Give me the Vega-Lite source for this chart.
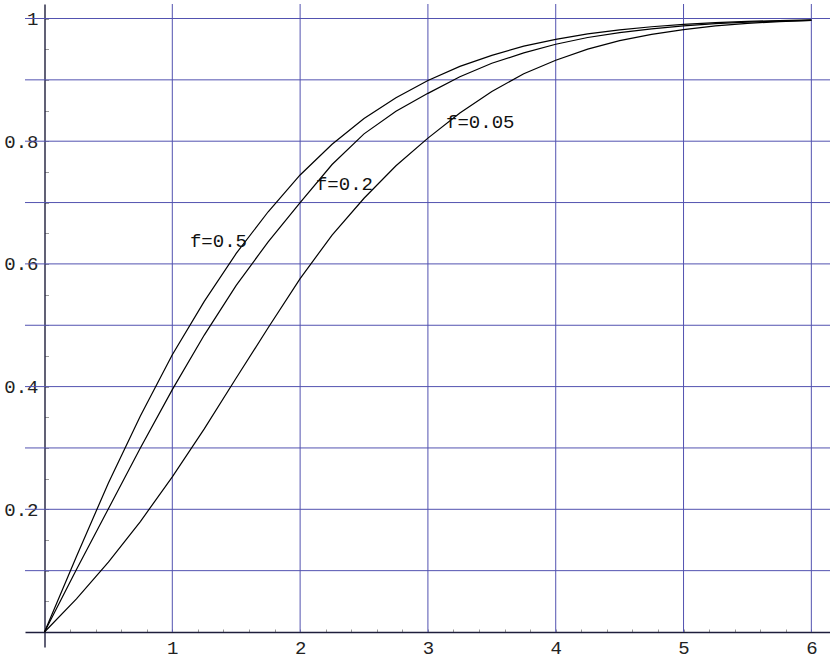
{
  "$schema": "https://vega.github.io/schema/vega-lite/v6.json",
  "width": 805,
  "height": 643,
  "autosize": {"type": "none"},
  "padding": {"left": 25, "top": 4, "right": 0, "bottom": 17},
  "background": "white",
  "config": {
    "view": {"stroke": null},
    "axis": {
      "labelFont": "Liberation Mono",
      "labelFontSize": 19,
      "labelColor": "#222222",
      "labelFlush": false,
      "labelBound": false,
      "labelOverlap": false,
      "domainColor": "#1e1e3c",
      "domainWidth": 1.4,
      "tickColor": "#9a9a9a",
      "tickWidth": 1,
      "grid": false,
      "title": null
    }
  },
  "datasets": {
    "curves": [
      {"f": "0.5", "x": 0, "y": 0}, {"f": "0.5", "x": 0.25, "y": 0.123}, {"f": "0.5", "x": 0.5, "y": 0.243}, {"f": "0.5", "x": 0.75, "y": 0.352},
      {"f": "0.5", "x": 1, "y": 0.452}, {"f": "0.5", "x": 1.25, "y": 0.539}, {"f": "0.5", "x": 1.5, "y": 0.617}, {"f": "0.5", "x": 1.75, "y": 0.685},
      {"f": "0.5", "x": 2, "y": 0.745}, {"f": "0.5", "x": 2.25, "y": 0.795}, {"f": "0.5", "x": 2.5, "y": 0.837}, {"f": "0.5", "x": 2.75, "y": 0.871},
      {"f": "0.5", "x": 3, "y": 0.899}, {"f": "0.5", "x": 3.25, "y": 0.922}, {"f": "0.5", "x": 3.5, "y": 0.94}, {"f": "0.5", "x": 3.75, "y": 0.955},
      {"f": "0.5", "x": 4, "y": 0.966}, {"f": "0.5", "x": 4.25, "y": 0.975}, {"f": "0.5", "x": 4.5, "y": 0.9815}, {"f": "0.5", "x": 4.75, "y": 0.9866},
      {"f": "0.5", "x": 5, "y": 0.9905}, {"f": "0.5", "x": 5.25, "y": 0.9932}, {"f": "0.5", "x": 5.5, "y": 0.9952}, {"f": "0.5", "x": 5.75, "y": 0.9967},
      {"f": "0.5", "x": 6, "y": 0.9977},
      {"f": "0.2", "x": 0, "y": 0}, {"f": "0.2", "x": 0.25, "y": 0.102}, {"f": "0.2", "x": 0.5, "y": 0.201}, {"f": "0.2", "x": 0.75, "y": 0.3},
      {"f": "0.2", "x": 1, "y": 0.395}, {"f": "0.2", "x": 1.25, "y": 0.484}, {"f": "0.2", "x": 1.5, "y": 0.565}, {"f": "0.2", "x": 1.75, "y": 0.636},
      {"f": "0.2", "x": 2, "y": 0.7}, {"f": "0.2", "x": 2.25, "y": 0.762}, {"f": "0.2", "x": 2.5, "y": 0.812}, {"f": "0.2", "x": 2.75, "y": 0.849},
      {"f": "0.2", "x": 3, "y": 0.878}, {"f": "0.2", "x": 3.25, "y": 0.905}, {"f": "0.2", "x": 3.5, "y": 0.927}, {"f": "0.2", "x": 3.75, "y": 0.944},
      {"f": "0.2", "x": 4, "y": 0.958}, {"f": "0.2", "x": 4.25, "y": 0.969}, {"f": "0.2", "x": 4.5, "y": 0.977}, {"f": "0.2", "x": 4.75, "y": 0.983},
      {"f": "0.2", "x": 5, "y": 0.988}, {"f": "0.2", "x": 5.25, "y": 0.9915}, {"f": "0.2", "x": 5.5, "y": 0.994}, {"f": "0.2", "x": 5.75, "y": 0.9958},
      {"f": "0.2", "x": 6, "y": 0.997},
      {"f": "0.05", "x": 0, "y": 0}, {"f": "0.05", "x": 0.25, "y": 0.054}, {"f": "0.05", "x": 0.5, "y": 0.114}, {"f": "0.05", "x": 0.75, "y": 0.18},
      {"f": "0.05", "x": 1, "y": 0.253}, {"f": "0.05", "x": 1.25, "y": 0.331}, {"f": "0.05", "x": 1.5, "y": 0.414}, {"f": "0.05", "x": 1.75, "y": 0.496},
      {"f": "0.05", "x": 2, "y": 0.576}, {"f": "0.05", "x": 2.25, "y": 0.647}, {"f": "0.05", "x": 2.5, "y": 0.707}, {"f": "0.05", "x": 2.75, "y": 0.76},
      {"f": "0.05", "x": 3, "y": 0.805}, {"f": "0.05", "x": 3.25, "y": 0.846}, {"f": "0.05", "x": 3.5, "y": 0.881}, {"f": "0.05", "x": 3.75, "y": 0.91},
      {"f": "0.05", "x": 4, "y": 0.932}, {"f": "0.05", "x": 4.25, "y": 0.95}, {"f": "0.05", "x": 4.5, "y": 0.964}, {"f": "0.05", "x": 4.75, "y": 0.974},
      {"f": "0.05", "x": 5, "y": 0.982}, {"f": "0.05", "x": 5.25, "y": 0.988}, {"f": "0.05", "x": 5.5, "y": 0.992}, {"f": "0.05", "x": 5.75, "y": 0.995},
      {"f": "0.05", "x": 6, "y": 0.997}
    ],
    "vgrid": [{"x": 1}, {"x": 2}, {"x": 3}, {"x": 4}, {"x": 5}, {"x": 6}],
    "hgrid": [{"y": 0.1}, {"y": 0.2}, {"y": 0.3}, {"y": 0.4}, {"y": 0.5}, {"y": 0.6}, {"y": 0.7}, {"y": 0.8}, {"y": 0.9}, {"y": 1.0}],
    "labels": [
      {"x": 1.138, "y": 0.628, "text": "f=0.5"},
      {"x": 2.124, "y": 0.7205, "text": "f=0.2"},
      {"x": 3.142, "y": 0.821, "text": "f=0.05"}
    ]
  },
  "layer": [
    {
      "data": {"name": "hgrid"},
      "mark": {"type": "rule", "color": "#5252b0", "strokeWidth": 1},
      "encoding": {
        "y": {"field": "y", "type": "quantitative", "scale": {"domain": [-0.02445, 1.02364], "nice": false, "zero": false},
          "axis": {"orient": "left", "offset": -19.5, "values": [0.05, 0.1, 0.15, 0.2, 0.25, 0.3, 0.35, 0.4, 0.45, 0.5, 0.55, 0.6, 0.65, 0.7, 0.75, 0.8, 0.85, 0.9, 0.95, 1.0],
            "tickSize": -4, "labelPadding": 10.5, "labelOverlap": false,
            "labelExpr": "abs(datum.value * 5 - round(datum.value * 5)) < 0.000001 ? format(datum.value, '.1~f') : ''"}}
      }
    },
    {
      "data": {"name": "vgrid"},
      "mark": {"type": "rule", "color": "#5252b0", "strokeWidth": 1},
      "encoding": {
        "x": {"field": "x", "type": "quantitative", "scale": {"domain": [-0.1526, 6.146], "nice": false, "zero": false},
          "axis": {"orient": "bottom", "offset": -15, "values": [0.2, 0.4, 0.6, 0.8, 1, 1.2, 1.4, 1.6, 1.8, 2, 2.2, 2.4, 2.6, 2.8, 3, 3.2, 3.4, 3.6, 3.8, 4, 4.2, 4.4, 4.6, 4.8, 5, 5.2, 5.4, 5.6, 5.8, 6],
            "tickSize": -3, "labelPadding": 9, "labelOverlap": false,
            "labelExpr": "abs(datum.value - round(datum.value)) < 0.000001 ? format(datum.value, 'd') : ''"}},
        "y": {"datum": 0,
          "axis": {"orient": "left", "offset": -19.5, "values": [0.05, 0.1, 0.15, 0.2, 0.25, 0.3, 0.35, 0.4, 0.45, 0.5, 0.55, 0.6, 0.65, 0.7, 0.75, 0.8, 0.85, 0.9, 0.95, 1.0],
            "tickSize": -4, "labelPadding": 10.5, "labelOverlap": false,
            "labelExpr": "abs(datum.value * 5 - round(datum.value * 5)) < 0.000001 ? format(datum.value, '.1~f') : ''"}},
        "y2": {"datum": 1.02364}
      }
    },
    {
      "data": {"name": "curves"},
      "mark": {"type": "line", "color": "black", "strokeWidth": 1.2},
      "encoding": {
        "x": {"field": "x", "type": "quantitative",
          "axis": {"orient": "bottom", "offset": -15, "values": [0.2, 0.4, 0.6, 0.8, 1, 1.2, 1.4, 1.6, 1.8, 2, 2.2, 2.4, 2.6, 2.8, 3, 3.2, 3.4, 3.6, 3.8, 4, 4.2, 4.4, 4.6, 4.8, 5, 5.2, 5.4, 5.6, 5.8, 6],
            "tickSize": -3, "labelPadding": 9, "labelOverlap": false,
            "labelExpr": "abs(datum.value - round(datum.value)) < 0.000001 ? format(datum.value, 'd') : ''"}},
        "y": {"field": "y", "type": "quantitative",
          "axis": {"orient": "left", "offset": -19.5, "values": [0.05, 0.1, 0.15, 0.2, 0.25, 0.3, 0.35, 0.4, 0.45, 0.5, 0.55, 0.6, 0.65, 0.7, 0.75, 0.8, 0.85, 0.9, 0.95, 1.0],
            "tickSize": -4, "labelPadding": 10.5, "labelOverlap": false,
            "labelExpr": "abs(datum.value * 5 - round(datum.value * 5)) < 0.000001 ? format(datum.value, '.1~f') : ''"}},
        "detail": {"field": "f"}
      }
    },
    {
      "data": {"name": "labels"},
      "mark": {"type": "text", "font": "Liberation Mono", "fontSize": 19, "align": "left", "baseline": "alphabetic", "color": "#111111"},
      "encoding": {
        "x": {"field": "x", "type": "quantitative",
          "axis": {"orient": "bottom", "offset": -15, "values": [0.2, 0.4, 0.6, 0.8, 1, 1.2, 1.4, 1.6, 1.8, 2, 2.2, 2.4, 2.6, 2.8, 3, 3.2, 3.4, 3.6, 3.8, 4, 4.2, 4.4, 4.6, 4.8, 5, 5.2, 5.4, 5.6, 5.8, 6],
            "tickSize": -3, "labelPadding": 9, "labelOverlap": false,
            "labelExpr": "abs(datum.value - round(datum.value)) < 0.000001 ? format(datum.value, 'd') : ''"}},
        "y": {"field": "y", "type": "quantitative",
          "axis": {"orient": "left", "offset": -19.5, "values": [0.05, 0.1, 0.15, 0.2, 0.25, 0.3, 0.35, 0.4, 0.45, 0.5, 0.55, 0.6, 0.65, 0.7, 0.75, 0.8, 0.85, 0.9, 0.95, 1.0],
            "tickSize": -4, "labelPadding": 10.5, "labelOverlap": false,
            "labelExpr": "abs(datum.value * 5 - round(datum.value * 5)) < 0.000001 ? format(datum.value, '.1~f') : ''"}},
        "text": {"field": "text"}
      }
    }
  ]
}
